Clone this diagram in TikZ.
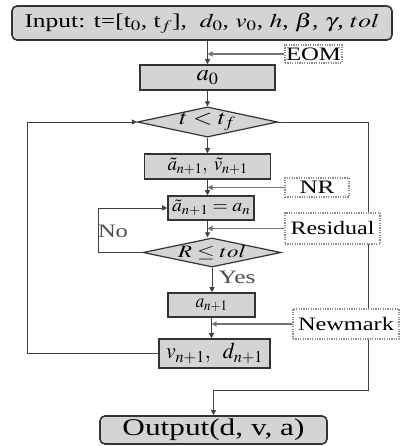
\documentclass[tikz,border=0pt]{standalone}
\usepackage{mathptmx}
\usepackage[no-math]{fontspec}
\setmainfont{Liberation Serif}
\usepackage{graphicx}
\usetikzlibrary{arrows.meta,shapes.geometric}
\newcommand{\fw}[2]{\resizebox{#1pt}{\height}{#2}}
\newcommand{\fwh}[3]{\resizebox{#1pt}{#2pt}{#3}}
\begin{document}
\begin{tikzpicture}[x=1pt,y=-1pt,
 box/.style={draw=black!80,line width=1.6pt,fill=black!17,inner sep=0pt,font=\fontsize{22}{23}\selectfont},
 rbox/.style={box,rounded corners=5pt},
 dia/.style={diamond,draw=black!80,line width=1.2pt,fill=black!17,inner sep=0pt,aspect=4.6,font=\fontsize{21}{22}\selectfont},
 tag/.style={draw=black!45,dash pattern=on 1.2pt off 1.2pt,line width=1.2pt,fill=white,inner sep=0pt,font=\fontsize{19}{20}\selectfont},
 lbl/.style={inner sep=0pt,text=black!70,font=\fontsize{19}{20}\selectfont},
 conn/.style={draw=black!75,line width=0.9pt},
 arr/.style={conn,-{Triangle[length=5pt,width=5pt]}},
 sarr/.style={draw=black!55,line width=1.2pt,-{Triangle[length=5pt,width=5pt]}},
]
\useasboundingbox (0,0) rectangle (400,446);
% main nodes
\node[rbox,minimum width=380pt,minimum height=34pt,font=\fontsize{19.5}{20}\selectfont] (in) at (202,23)
  {\fw{355}{Input: t=[t$_0$, t$_{f}$], \ $d_0$, $v_0$, $h$, $\beta$, $\gamma$, $tol$}};
\node[box,minimum width=135pt,minimum height=25pt] (a0) at (207.5,77.5) {\fwh{22}{10}{$a_0$}};
\node[dia,minimum width=140pt,minimum height=30pt] (d1) at (207.5,122) {\fwh{56}{11.5}{$t<t_f$}};
\node[box,minimum width=126pt,minimum height=25pt] (b1) at (207.5,166.5) {\fwh{80}{12.5}{$\tilde{a}_{n+1},\;\tilde{v}_{n+1}$}};
\node[box,minimum width=86pt,minimum height=24pt] (b2) at (211,208) {\fwh{78}{11.5}{$\tilde{a}_{n+1}=a_n$}};
\node[dia,minimum width=138pt,minimum height=29pt] (d2) at (212,252.5) {\fwh{68}{12}{$R\le tol$}};
\node[box,minimum width=87pt,minimum height=24pt] (b3) at (211.5,305) {\fwh{32}{8.5}{$a_{n+1}$}};
\node[box,minimum width=111pt,minimum height=29pt] (b4) at (214.5,353.5) {\fwh{97}{15.5}{$v_{n+1},\;\; d_{n+1}$}};
\node[rbox,minimum width=227pt,minimum height=28pt,font=\fontsize{24}{25}\selectfont] (out) at (213.5,430) {\fw{182}{Output(d, v, a)}};
% loops (drawn before tags so tags cover them)
\coordinate (rc) at (368,390);
\coordinate (lc) at (27,122);
\coordinate (nc) at (98,208);
\draw[arr] (d1.east) -| (rc) -| (out.north);
\draw[arr] (b4.west) -| (lc) -- (d1.west);
\draw[arr] (d2.west) -| (nc) -- (b2.west);
% main flow
\draw[arr] (in.south -| a0.north) -- (a0.north);
\draw[arr] (a0.south) -- (a0.south |- d1.north);
\draw[arr] (d1.south) -- (d1.south |- b1.north);
\draw[arr] (b1.south) -- (b1.south |- b2.north);
\draw[arr] (b2.south -| b1.south) -- (b1.south |- d2.north);
\draw[arr] (d2.south) -- (d2.south |- b3.north);
\draw[arr] (b3.south) -- (b3.south |- b4.north);
% tags
\node[tag,minimum width=57pt,minimum height=18pt] (eom) at (313.5,54) {\fw{55}{EOM}};
\node[tag,minimum width=64pt,minimum height=19pt] (nr) at (317,187.5) {\fw{35}{NR}};
\node[tag,minimum width=95pt,minimum height=31pt] (res) at (332.5,228.5) {\fw{84}{Residual}};
\node[tag,minimum width=106pt,minimum height=30pt] (nm) at (346,324) {\fw{96}{Newmark}};
\draw[sarr] (eom.west) -- (eom.west -| a0.north);
\draw[sarr] (nr.west) -- (nr.west -| b1.south);
\draw[sarr] (res.west) -- (res.west -| b1.south);
\draw[sarr] (nm.west) -- (nm.west -| b3.south);
% labels
\node[lbl] (no) at (113,231) {\fw{30}{No}};
\node[lbl] (yes) at (237,277) {\fw{37}{Yes}};
\end{tikzpicture}
\end{document}
